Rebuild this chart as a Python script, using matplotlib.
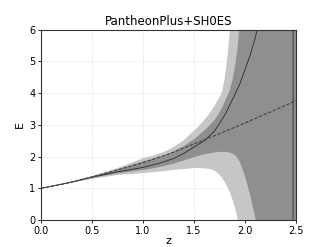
import matplotlib
matplotlib.use("Agg")
import matplotlib.pyplot as plt
import numpy as np

# redshift grid and reconstructed E(z) with 1 and 2 sigma bands
z = [0.0, 0.25, 0.5, 0.75, 1.0, 1.1, 1.2, 1.3, 1.4, 1.5, 1.55, 1.6, 1.65,
     1.7, 1.75, 1.775, 1.8, 1.825, 1.85, 1.875, 1.9, 1.925, 1.95, 2.0, 2.05,
     2.1, 2.15, 2.2, 2.3, 2.4, 2.5]
up2 = [1.0, 1.17, 1.39, 1.64, 1.95, 2.03, 2.14, 2.3, 2.52, 2.82, 2.97, 3.15,
       3.35, 3.6, 3.88, 4.05, 4.45, 5.1, 5.95, 6.8, 7.8, 8.6, 9.5, 11, 13,
       15, 18, 21, 28, 38, 60]
up1 = [1.0, 1.16, 1.37, 1.6, 1.85, 1.94, 2.03, 2.16, 2.33, 2.55, 2.68, 2.82,
       2.98, 3.15, 3.4, 3.55, 3.72, 3.9, 4.1, 4.4, 4.8, 5.4, 6.2, 8, 10,
       12, 14, 16, 22, 30, 50]
lo1 = [1.0, 1.15, 1.33, 1.47, 1.58, 1.63, 1.7, 1.78, 1.88, 1.98, 2.03, 2.07,
       2.1, 2.13, 2.15, 2.15, 2.15, 2.14, 2.13, 2.1, 2.05, 1.96, 1.82, 1.38,
       0.78, 0.08, -0.8, -2, -5, -10, -30]
lo2 = [1.0, 1.14, 1.3, 1.42, 1.48, 1.51, 1.54, 1.58, 1.61, 1.64, 1.64, 1.63,
       1.61, 1.56, 1.43, 1.33, 1.2, 1.05, 0.88, 0.66, 0.4, 0.07, -0.3, -1.5,
       -3, -5, -7, -9, -14, -20, -30]

# best fit curve, with a pole past z~2.15 (gap as nan)
z_fit = [0.0, 0.25, 0.5, 0.75, 1.0, 1.1, 1.2, 1.3, 1.4, 1.5, 1.6, 1.7, 1.8,
         1.9, 1.95, 2.0, 2.05, 2.1, 2.15, 2.2, np.nan, 2.465, 2.475]
e_fit = [1.0, 1.16, 1.35, 1.52, 1.66, 1.74, 1.83, 1.94, 2.1, 2.3, 2.5, 2.8,
         3.3, 3.95, 4.3, 4.75, 5.2, 5.75, 6.4, 7.2, np.nan, -30, 30]

# reference model (dashed)
z_ref = [0.0, 0.25, 0.5, 0.75, 1.0, 1.25, 1.5, 1.75, 2.0, 2.25, 2.5]
e_ref = [1.0, 1.16, 1.36, 1.58, 1.81, 2.08, 2.4, 2.72, 3.06, 3.41, 3.76]

fig = plt.figure(figsize=(3.29, 2.47), dpi=100)
ax = fig.add_axes([0.1246, 0.109, 0.7754, 0.771])

ax.fill_between(z, lo2, up2, color='#c6c6c6', lw=0)
ax.fill_between(z, lo1, up1, color='#8f8f8f', lw=0)
ax.plot(z_fit, e_fit, c='#2a2a2a', lw=0.6)
ax.plot(z_ref, e_ref, c='#404040', lw=0.8, ls='--', dashes=(3, 1.5))

ax.set_xlim(0, 2.5)
ax.set_ylim(0, 6)
ax.set_xticks([0, 0.5, 1.0, 1.5, 2.0, 2.5])
ax.set_yticks(range(7))
ax.grid(ls=':', lw=0.5, c='#cccccc')
ax.set_axisbelow(True)
ax.tick_params(labelsize=7, length=2.5, width=0.6, pad=1.5)
for s in ax.spines.values():
    s.set_linewidth(0.8)
    s.set_color('#333333')

ax.set_xlabel('z', fontsize=8, labelpad=0)
ax.set_ylabel('E', fontsize=8, labelpad=3)
ax.set_title('PantheonPlus+SH0ES', fontsize=8.5, pad=3)

plt.savefig('out.png', dpi=100)
